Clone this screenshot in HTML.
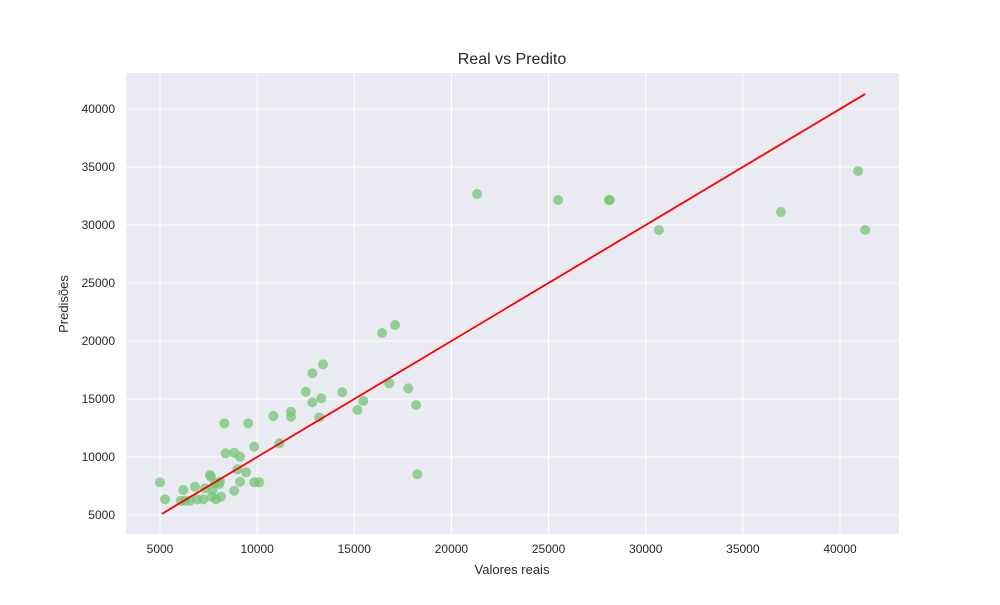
<!DOCTYPE html>
<html><head><meta charset="utf-8"><style>body{margin:0;background:#fff}svg text{font-family:"Liberation Sans",sans-serif;fill:#262626}</style></head>
<body>
<svg id="chart" width="1000" height="600">
<rect x="0" y="0" width="1000" height="600" fill="#fff"/>
<rect x="126" y="73" width="773" height="461" fill="#eaeaf2"/>
<g id="grid"></g><g id="pts"></g><g id="ticks"></g>
<text x="512" y="64" text-anchor="middle" font-size="16">Real vs Predito</text>
<text x="512" y="574" text-anchor="middle" font-size="13">Valores reais</text>
<text transform="translate(68,304) rotate(-90)" text-anchor="middle" font-size="13">Predisões</text>
</svg>
<script>
const xTicks=[5000,10000,15000,20000,25000,30000,35000,40000];
const yTicks=[5000,10000,15000,20000,25000,30000,35000,40000];
const realValues=[5000,5260,6070,6290,6540,6200,6800,6920,7230,7320,7570,7620,7710,7660,7880,7830,8090,8140,8050,8310,8380,8820,9120,8820,8980,9120,9430,9540,9850,9850,10110,10830,11140,11740,11740,12510,12840,13390,12840,13300,13200,14380,15160,15460,16800,17780,18180,18240,16430,17100,21320,25490,28110,28160,30680,36960,40930,41290];
const predValues=[7820,6350,6230,6230,6230,7160,7440,6350,6350,7300,8450,8300,7160,6580,6350,7730,7870,6580,7670,12900,10320,10370,10030,7090,8940,7870,8680,12900,10890,7820,7820,13530,11180,13900,13470,15630,17210,17990,14710,15060,13420,15580,14050,14830,16350,15920,14480,8510,20690,21380,32670,32150,32150,32150,29570,31120,34650,29570];
const lineRange=[5100,41300];
const NS="http://www.w3.org/2000/svg";
const X=v=>160+(v-5000)*680/35000;
const Y=v=>515-(v-5000)*406/35000;
function mk(t,a,p){const e=document.createElementNS(NS,t);for(const k in a)e.setAttribute(k,a[k]);p.appendChild(e);return e;}
const g=document.getElementById('grid'),tk=document.getElementById('ticks'),pg=document.getElementById('pts');
xTicks.forEach(v=>{const l=mk('line',{x1:X(v),x2:X(v),y1:73,y2:534,stroke:'#fff','stroke-width':1},g);


const t=mk('text',{x:X(v),y:553,'text-anchor':'middle','font-size':12},tk);t.textContent=v;

});
yTicks.forEach(v=>{const l=mk('line',{x1:126,x2:899,y1:Y(v),y2:Y(v),stroke:'#fff','stroke-width':1},g);


const t=mk('text',{x:115,y:Y(v)+4,'text-anchor':'end','font-size':12},tk);t.textContent=v;

});
realValues.forEach((v,i)=>{const c=mk('circle',{cx:X(v),cy:Y(predValues[i]),r:5,fill:'#74c476','fill-opacity':0.75},pg);

});
const ln=mk('line',{x1:X(lineRange[0]),y1:Y(lineRange[0]),x2:X(lineRange[1]),y2:Y(lineRange[1]),stroke:'#ff0000','stroke-width':1.8},pg);


</script>
</body></html>
